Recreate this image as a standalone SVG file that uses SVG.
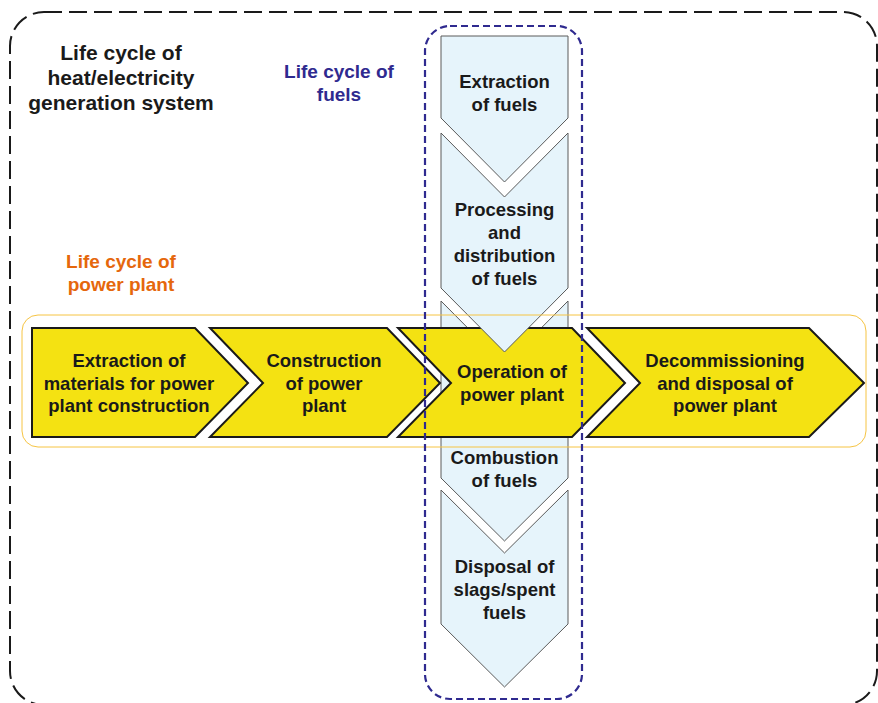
<svg xmlns="http://www.w3.org/2000/svg" width="878" height="703" viewBox="0 0 878 703">
<style>
.t{font-family:"Liberation Sans",Arial,sans-serif;font-weight:bold;text-anchor:middle}
.n{font-size:18.5px;fill:#1a1a1a}
.blue{fill:#e6f4fb;stroke:#5a5a5a;stroke-width:1}
.yel{fill:#f4e212;stroke:#1a1a1a;stroke-width:2;stroke-linejoin:miter}
</style>
<rect x="0" y="0" width="878" height="703" fill="#ffffff"/>
<g id="system-boundary">
<rect x="10" y="12" width="867" height="693" rx="34" fill="none" stroke="#1a1a1a" stroke-width="2" stroke-dasharray="18 7"/>
<text class="t" font-size="21" fill="#1a1a1a"><tspan x="121" y="60">Life cycle of</tspan><tspan x="121" y="85">heat/electricity</tspan><tspan x="121" y="110">generation system</tspan></text>
</g>
<g id="fuel-combustion">
<polygon class="blue" points="441,301 504.5,365 568,301 568,478 504.5,541 441,478"/>
<text class="t n"><tspan x="504.5" y="464">Combustion</tspan><tspan x="504.5" y="487">of fuels</tspan></text>
</g>
<g id="fuel-disposal">
<polygon class="blue" points="441,490 504.5,553 568,490 568,624 504.5,687 441,624"/>
<text class="t n"><tspan x="504.5" y="573">Disposal of</tspan><tspan x="504.5" y="596">slags/spent</tspan><tspan x="504.5" y="619">fuels</tspan></text>
</g>
<g id="fuel-extraction">
<polygon class="blue" points="441,36 568,36 568,118 504.5,182 441,118"/>
<text class="t n"><tspan x="504.5" y="88">Extraction</tspan><tspan x="504.5" y="111">of fuels</tspan></text>
</g>
<g id="plant-materials">
<polygon class="yel" points="32,328 195,328 248,383 195,437 32,437"/>
<text class="t n"><tspan x="129" y="367">Extraction of</tspan><tspan x="129" y="390">materials for power</tspan><tspan x="129" y="412">plant construction</tspan></text>
</g>
<g id="plant-construction">
<polygon class="yel" points="210,328 387,328 440,383 387,437 210,437 263,383"/>
<text class="t n"><tspan x="324" y="367">Construction</tspan><tspan x="324" y="390">of power</tspan><tspan x="324" y="412">plant</tspan></text>
</g>
<g id="plant-operation">
<polygon class="yel" points="398,328 572,328 625,383 572,437 398,437 451,383"/>
</g>
<g id="plant-decommissioning">
<polygon class="yel" points="587,328 809,328 864,383 809,437 587,437 640,383"/>
<text class="t n"><tspan x="725" y="367">Decommissioning</tspan><tspan x="725" y="390">and disposal of</tspan><tspan x="725" y="412">power plant</tspan></text>
</g>
<g id="fuel-processing">
<polygon class="blue" points="441,133 504.5,197 568,133 568,288 504.5,352 441,288"/>
<text class="t n"><tspan x="504.5" y="216">Processing</tspan><tspan x="504.5" y="239">and</tspan><tspan x="504.5" y="262">distribution</tspan><tspan x="504.5" y="285">of fuels</tspan></text>
</g>
<g id="operation-label">
<text class="t n"><tspan x="512" y="378">Operation of</tspan><tspan x="512" y="401">power plant</tspan></text>
</g>
<g id="power-plant-cycle">
<rect x="22" y="315" width="844" height="132" rx="16" fill="none" stroke="#f6c443" stroke-width="1"/>
<text class="t" font-size="19" fill="#e5670c"><tspan x="121" y="268">Life cycle of</tspan><tspan x="121" y="291">power plant</tspan></text>
</g>
<g id="fuel-cycle">
<rect x="425" y="26" width="157" height="673" rx="25" fill="none" stroke="#2f2a8f" stroke-width="2.2" stroke-dasharray="7 4"/>
<text class="t" font-size="19" fill="#2f2a8f"><tspan x="339" y="78">Life cycle of</tspan><tspan x="339" y="101">fuels</tspan></text>
</g>
<g id="connectors"></g>
</svg>
